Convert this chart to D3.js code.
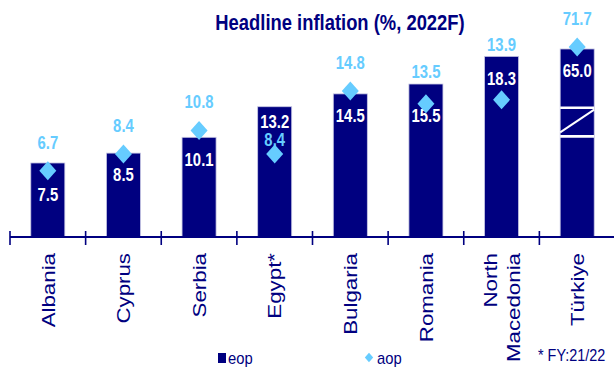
<!DOCTYPE html>
<html>
<head>
<meta charset="utf-8">
<script src="https://cdn.jsdelivr.net/npm/d3@7"></script>
<style>
  html, body { margin: 0; padding: 0; background: #fff; }
  svg { display: block; font-family: "Liberation Sans", Arial, sans-serif; }
</style>
</head>
<body>
<svg id="chart" width="614" height="370"></svg>
<script>
// ---- data ----
const categories = ["Albania", "Cyprus", "Serbia", "Egypt*", "Bulgaria", "Romania", "North Macedonia", "Türkiye"];
const eop = [7.5, 8.5, 10.1, 13.2, 14.5, 15.5, 18.3, 65.0];   // end of period
const aop = [6.7, 8.4, 10.8, 8.4, 14.8, 13.5, 13.9, 71.7];    // average of period
const seriesNames = ["eop", "aop"];
const titleText = "Headline inflation (%, 2022F)";
const footnoteText = "* FY:21/22";
const brokenCategory = "Türkiye";   // drawn on a broken axis

// ---- styles ----
const NAVY = "#000080";
const LIGHT = "#66CCFF";
const SQUEEZE = 0.84;               // horizontal condensing of text

const svg = d3.select("#chart");

// ---- scales ----
const x = d3.scaleBand()
  .domain(categories)
  .range([10, 615])
  .paddingInner(0.55)
  .paddingOuter(0.275);

const y = d3.scaleLinear().domain([0, 20]).range([237, 39.6]);

// broken scale: true scale up to the break, then a compressed top segment
const breakLo = 10.2, breakHi = 13.1;
const yBroken = d3.scaleLinear()
  .domain([0, breakHi, 60, 80])
  .range([y(0), y(breakHi), y(18.9), y(19.5)]);

const yOf = (c, v) => (c === brokenCategory ? yBroken(v) : y(v));
const cx = c => x(c) + x.bandwidth() / 2;
const fmt = d3.format(".1f");

const rows = categories.map((c, i) => ({ c, e: eop[i], a: aop[i] }));

// ---- title ----
svg.append("text")
  .attr("transform", `translate(340,30) scale(${SQUEEZE},1)`)
  .attr("text-anchor", "middle")
  .attr("font-size", 21.9)
  .attr("font-weight", "bold")
  .attr("fill", NAVY)
  .text(titleText);

// ---- bars ----
svg.append("g").selectAll("rect")
  .data(rows)
  .join("rect")
  .attr("x", d => x(d.c))
  .attr("y", d => yOf(d.c, d.e))
  .attr("width", x.bandwidth())
  .attr("height", d => y(0) - yOf(d.c, d.e))
  .attr("fill", NAVY)
  .attr("stroke", "#c8c8e4")
  .attr("stroke-width", 0.8);

// ---- axis break marker on the broken bar ----
const brk = svg.append("g").attr("stroke", "#fff").attr("stroke-width", 2.6);
const bx0 = x(brokenCategory), bx1 = bx0 + x.bandwidth();
const yUp = yBroken(breakHi), yDn = y(breakLo);
brk.append("line").attr("x1", bx0).attr("x2", bx1).attr("y1", yUp).attr("y2", yUp);
brk.append("line").attr("x1", bx0).attr("x2", bx1).attr("y1", yDn).attr("y2", yDn);
brk.append("line").attr("x1", bx0).attr("x2", bx1).attr("y1", yDn - 4).attr("y2", yUp + 2).attr("stroke-width", 2);

// ---- category axis ----
const axis = svg.append("g").attr("stroke", NAVY);
const x0 = x.range()[0];
axis.append("line")
  .attr("x1", x0).attr("x2", 614)
  .attr("y1", y(0)).attr("y2", y(0))
  .attr("stroke-width", 2);
axis.selectAll("line.tick")
  .data(d3.range(categories.length + 1))
  .join("line")
  .attr("class", "tick")
  .attr("x1", i => x0 + i * x.step())
  .attr("x2", i => x0 + i * x.step())
  .attr("y1", y(0) - 6)
  .attr("y2", y(0) + 8)
  .attr("stroke-width", 1.6);

const catG = svg.append("g").attr("fill", NAVY).attr("font-size", 22.3);
rows.forEach(d => {
  const lines = d.c.split(" ");
  lines.forEach((ln, j) => {
    const off = (j - (lines.length - 1) / 2) * 22.7;
    catG.append("text")
      .attr("transform", `translate(${cx(d.c) + off},253) rotate(-90) scale(1,0.86)`)
      .attr("text-anchor", "end")
      .attr("dy", "0.35em")
      .text(ln);
  });
});

// ---- label placement ----
const DIAMOND_H = 9.5, DIAMOND_W = 8.5;
rows.forEach(d => {
  d.top = yOf(d.c, d.e);
  d.dc = yOf(d.c, d.a);
  d.dTop = d.dc - DIAMOND_H;
  const depth = d.dc - d.top;
  d.deep = depth > 45;                       // diamond sits far inside the bar
  d.eopY = d.deep ? d.top + 15 : (depth > 5 && depth < 30 ? d.top + 32 : d.top + 22);
  d.aopY = d.deep ? d.top + 33
         : (d.dTop < d.top + 2 ? Math.min(d.top, d.dTop) - 19 : d.top - 12);
});

// eop value labels
svg.append("g").selectAll("text")
  .data(rows)
  .join("text")
  .attr("transform", d => `translate(${cx(d.c)},${d.eopY}) scale(${SQUEEZE},1)`)
  .attr("text-anchor", "middle")
  .attr("dy", "0.36em")
  .attr("font-size", 17.7)
  .attr("font-weight", "bold")
  .attr("fill", "#fff")
  .text(d => fmt(d.e));

// aop diamonds
const diamond = `M0,${-DIAMOND_H}L${DIAMOND_W},0L0,${DIAMOND_H}L${-DIAMOND_W},0Z`;
svg.append("g").selectAll("path")
  .data(rows)
  .join("path")
  .attr("d", diamond)
  .attr("transform", d => `translate(${cx(d.c)},${d.dc})`)
  .attr("fill", LIGHT);

// aop value labels
svg.append("g").selectAll("text")
  .data(rows)
  .join("text")
  .attr("transform", d => `translate(${cx(d.c)},${d.aopY}) scale(${SQUEEZE},1)`)
  .attr("text-anchor", "middle")
  .attr("dy", "0.36em")
  .attr("font-size", 17.7)
  .attr("font-weight", "bold")
  .attr("fill", LIGHT)
  .text(d => fmt(d.a));

// ---- legend ----
const leg = svg.append("g").attr("font-size", 17).attr("fill", NAVY);
leg.append("rect").attr("x", 218).attr("y", 353).attr("width", 8).attr("height", 10).attr("fill", NAVY);
leg.append("text").attr("transform", `translate(228,364) scale(0.87,1)`).text(seriesNames[0]);
leg.append("path")
  .attr("d", "M0,-4.8L4.2,0L0,4.8L-4.2,0Z")
  .attr("transform", "translate(369,357.5)")
  .attr("fill", LIGHT);
leg.append("text").attr("transform", `translate(377,364) scale(0.87,1)`).text(seriesNames[1]);

// ---- footnote ----
svg.append("text")
  .attr("transform", "translate(538,361) scale(0.9,1)")
  .attr("font-size", 16)
  .attr("fill", NAVY)
  .text(footnoteText);
</script>
</body>
</html>
